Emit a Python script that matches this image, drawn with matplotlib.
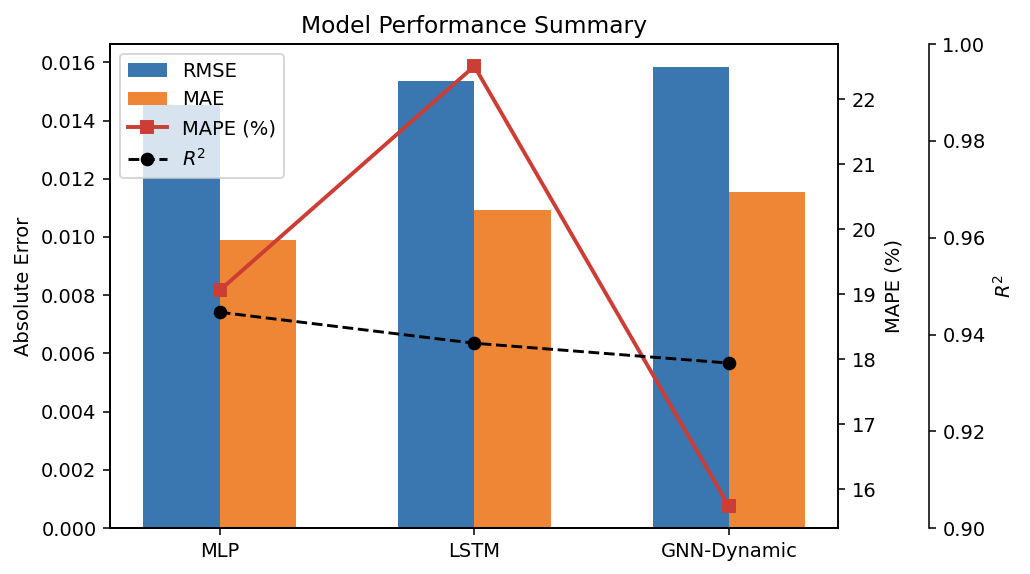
import numpy as np
import matplotlib.pyplot as plt

# < -- Data

models = ['MLP', 'LSTM', 'GNN-Dynamic']
rmse = [0.01455, 0.01535, 0.01583]
mae = [0.00991, 0.01094, 0.01156]
mape = [19.06, 22.51, 15.74]
r2 = [0.9446, 0.9382, 0.9341]

# < -- Plot

fig = plt.figure(figsize=(1030 / 140, 574 / 140), dpi=140)
ax = fig.add_axes([0.107, 0.080, 0.707, 0.843])

x = np.arange(len(models))
w = 0.3

b1 = ax.bar(x - w / 2, rmse, w, color='#3A76AF', label='RMSE')
b2 = ax.bar(x + w / 2, mae, w, color='#EF8636', label='MAE')
ax.set_xticks(x)
ax.set_xticklabels(models)
ax.set_ylabel('Absolute Error')
ax.set_title('Model Performance Summary', fontsize=12)

ax2 = ax.twinx()
l1, = ax2.plot(x, mape, color='#CC3D35', marker='s', markersize=6,
               linewidth=2, label='MAPE (%)')
ax2.set_ylabel('MAPE (%)')

ax3 = ax.twinx()
ax3.spines['right'].set_position(('axes', 1.124))
l2, = ax3.plot(x, r2, color='black', linestyle='--', marker='o',
               markersize=6, linewidth=1.5, label='$R^2$')
ax3.set_ylim(0.90, 1.00)
ax3.set_ylabel('$R^2$')

handles = [b1, b2, l1, l2]
ax3.legend(handles, [h.get_label() for h in handles], loc='upper left')

plt.savefig('out.png', dpi=140)
plt.close()
